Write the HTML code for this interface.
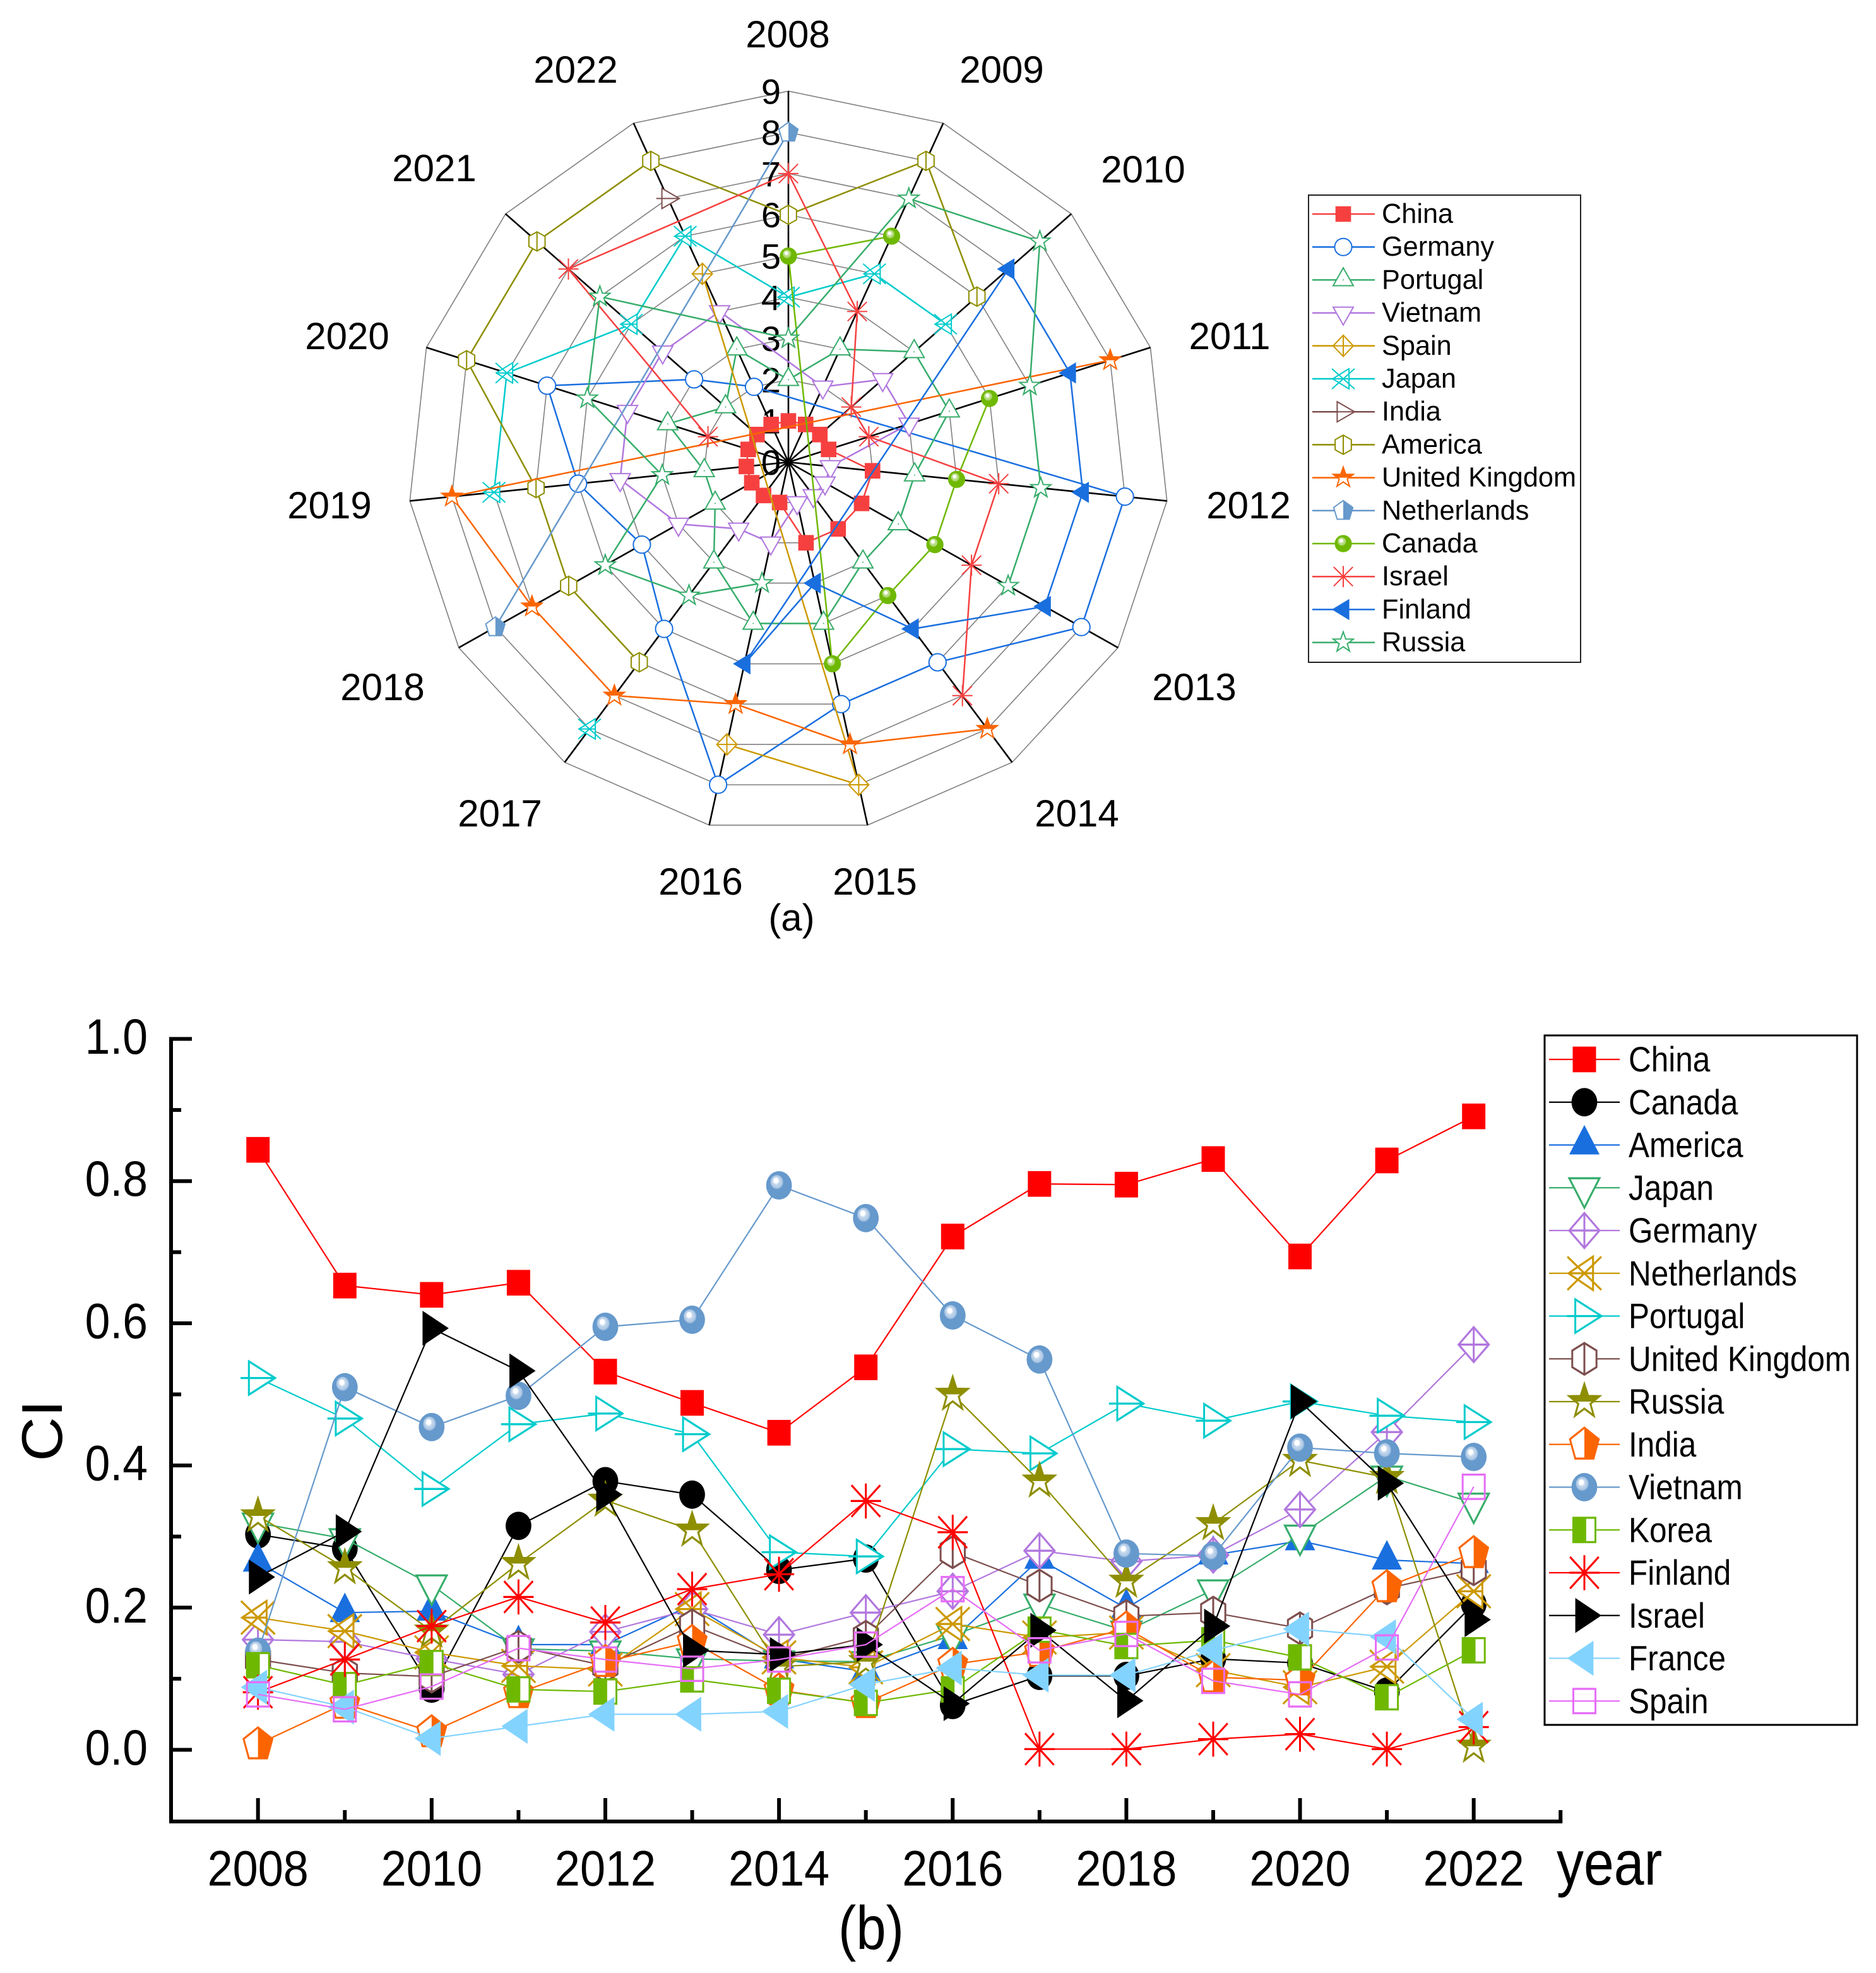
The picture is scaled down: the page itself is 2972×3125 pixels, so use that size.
<!DOCTYPE html>
<html lang="en">
<head>
<meta charset="utf-8">
<title>CI radar and line chart</title>
<style>
html,body{margin:0;padding:0;background:#fff;}
svg{display:block;}
text{font-family:"Liberation Sans",Arial,sans-serif;fill:#000;}
</style>
</head>
<body>
<svg id="figure" xmlns="http://www.w3.org/2000/svg" width="2972" height="3125" viewBox="0 0 2972 3125">
<defs>
<radialGradient id="ball-green" cx="0.5" cy="0.5" r="0.62" fx="0.36" fy="0.3">
<stop offset="0" stop-color="#ffffff"/><stop offset="0.14" stop-color="#ffffff"/><stop offset="0.2" stop-color="#c5e39a"/><stop offset="0.36" stop-color="#a9d56a"/><stop offset="0.42" stop-color="#6fb802"/><stop offset="1" stop-color="#6fb802"/>
</radialGradient>
<radialGradient id="ball-blue" cx="0.5" cy="0.5" r="0.62" fx="0.36" fy="0.3">
<stop offset="0" stop-color="#ffffff"/><stop offset="0.14" stop-color="#ffffff"/><stop offset="0.2" stop-color="#c8daee"/><stop offset="0.36" stop-color="#a9c5e4"/><stop offset="0.42" stop-color="#6699cc"/><stop offset="1" stop-color="#6699cc"/>
</radialGradient>
</defs>
<rect x="0" y="0" width="2972" height="3125" fill="#ffffff"/>

<g id="radar-chart">
<g id="radar-grid"></g>
<g id="radar-ticks" font-size="56" text-anchor="end"></g>
<g id="radar-series"></g>
<g font-size="60">
<text x="1248" y="75" text-anchor="middle">2008</text>
<text x="1587" y="131" text-anchor="middle">2009</text>
<text x="1811" y="289" text-anchor="middle">2010</text>
<text x="1948" y="553" text-anchor="middle">2011</text>
<text x="1978" y="821" text-anchor="middle">2012</text>
<text x="1892" y="1109" text-anchor="middle">2013</text>
<text x="1706" y="1309" text-anchor="middle">2014</text>
<text x="1386" y="1417" text-anchor="middle">2015</text>
<text x="1110" y="1417" text-anchor="middle">2016</text>
<text x="792" y="1309" text-anchor="middle">2017</text>
<text x="606" y="1109" text-anchor="middle">2018</text>
<text x="522" y="821" text-anchor="middle">2019</text>
<text x="550" y="553" text-anchor="middle">2020</text>
<text x="688" y="287" text-anchor="middle">2021</text>
<text x="912" y="131" text-anchor="middle">2022</text>
</g>
<rect x="2073" y="309" width="431" height="740" fill="#ffffff" stroke="#222222" stroke-width="2"/>
<g id="radar-legend"></g>
<text x="1254" y="1474" font-size="60" text-anchor="middle">(a)</text>
</g>

<g id="line-chart">
<g id="line-axes"></g>
<g id="line-series"></g>
<text transform="translate(98,2266) rotate(-90) scale(1.07,1)" font-size="91" text-anchor="middle">CI</text>
<text transform="translate(2466,2985) scale(1,1.15)" font-size="86">year</text>
<rect x="2447" y="1640" width="495" height="1092" fill="#ffffff" stroke="#000000" stroke-width="3"/>
<g id="line-legend"></g>
<text transform="translate(1380,3087) scale(1,1.15)" font-size="85" text-anchor="middle">(b)</text>
</g>
</svg>

<script>
const radarYears = [2008,2009,2010,2011,2012,2013,2014,2015,2016,2017,2018,2019,2020,2021,2022];
const radarTickLabels = [0,1,2,3,4,5,6,7,8,9];

const radarChina       = [1,1,1,1,2,2,2,2,1,1,1,1,1,1,1];
const radarGermany     = [null,null,null,null,8,8,6,6,8,5,4,5,6,3,2];
const radarPortugal    = [2,3,4,4,3,3,3,4,4,3,2,2,3,2,3];
const radarVietnam     = [null,2,3,3,1,1,1,1,2,2,3,4,4,4,4];
const radarSpain       = [null,null,null,null,null,null,null,8,7,null,null,null,null,null,5];
const radarJapan       = [4,5,5,null,null,null,null,null,null,8,null,7,7,5,6];
const radarIndia       = [null,null,null,null,null,null,null,null,null,null,null,null,null,null,7];
const radarAmerica     = [6,8,6,null,null,null,null,null,null,6,6,6,8,8,8];
const radarUK          = [null,null,null,8,null,null,8,7,6,7,7,8,null,null,null];
const radarNetherlands = [8,null,null,null,null,null,null,null,null,null,8,null,null,null,null];
const radarCanada      = [5,6,null,5,4,4,4,5,null,null,null,null,null,null,null];
const radarIsrael      = [7,4,2,2,5,5,7,null,null,null,null,null,2,7,null];
const radarFinland     = [null,null,7,7,7,7,5,3,5,null,null,null,null,null,null];
const radarRussia      = [3,7,8,6,6,6,null,null,3,4,5,3,5,6,null];

const lineYears = [2008,2009,2010,2011,2012,2013,2014,2015,2016,2017,2018,2019,2020,2021,2022];
const lineYTickLabels = ["0.0","0.2","0.4","0.6","0.8","1.0"];
const lineXTickLabels = ["2008","2010","2012","2014","2016","2018","2020","2022"];

const lineChina       = [.844,.653,.640,.657,.532,.488,.446,.538,.722,.796,.795,.831,.694,.829,.891];
const lineCanada      = [.303,.283,.086,.315,.378,.359,.253,.269,.063,.104,.104,.128,.122,.082,.205];
const lineAmerica     = [.264,.193,.195,.148,.148,.204,.128,.110,.155,.268,.199,.274,.294,.267,.262];
const lineJapan       = [.319,.297,.232,.142,.139,.128,.125,.124,.161,.205,.167,.225,.302,.385,.347];
const lineGermany     = [.155,.152,.128,.106,.166,.198,.162,.193,.223,.280,.265,.274,.338,.447,.570];
const lineNetherlands = [.186,.167,.137,.118,.113,.198,.130,.116,.177,.158,.165,.112,.088,.117,.223];
const linePortugal    = [.523,.466,.367,.458,.473,.444,.278,.272,.423,.417,.487,.463,.490,.470,.461];
const lineUK          = [.127,.108,.103,.145,.118,.175,.127,.159,.278,.231,.188,.193,.171,.227,.254];
const lineRussia      = [.329,.256,.167,.262,.351,.309,.117,.124,.500,.378,.237,.318,.407,.383,.005];
const lineIndia       = [.008,.065,.025,.080,.124,.152,.084,.066,.120,.138,.171,.102,.098,.229,.277];
const lineVietnam     = [.138,.510,.454,.498,.595,.605,.794,.748,.611,.549,.276,.273,.425,.417,.412];
const lineKorea       = [.119,.091,.122,.085,.082,.099,.083,.066,.085,.169,.146,.154,.130,.074,.140];
const lineFinland     = [.081,.127,.174,.215,.179,.226,.247,.350,.306,.001,.001,.015,.022,.001,.032];
const lineIsrael      = [.243,.307,.593,.533,.359,.140,.134,.148,.065,.168,.069,.174,.490,.375,.183];
const lineFrance      = [.088,.060,.016,.033,.050,.050,.054,.092,.115,.105,.105,.140,.170,.159,.043];
const lineSpain       = [.078,.057,.089,.143,.127,.114,.127,.148,.226,.140,.163,.097,.078,.144,.370];

const radarDefs = [
  {name:"China",values:radarChina,color:"#f64040",marker:"square"},
  {name:"Germany",values:radarGermany,color:"#1a6fdf",marker:"circle"},
  {name:"Portugal",values:radarPortugal,color:"#37ad6b",marker:"triUpDot"},
  {name:"Vietnam",values:radarVietnam,color:"#b177de",marker:"triDown"},
  {name:"Spain",values:radarSpain,color:"#cc9900",marker:"diamond"},
  {name:"Japan",values:radarJapan,color:"#00cbcc",marker:"cross"},
  {name:"India",values:radarIndia,color:"#7d4e4e",marker:"triRight"},
  {name:"America",values:radarAmerica,color:"#8e8e00",marker:"hex"},
  {name:"United Kingdom",values:radarUK,color:"#fb6501",marker:"starHalf"},
  {name:"Netherlands",values:radarNetherlands,color:"#6699cc",marker:"pentHalf"},
  {name:"Canada",values:radarCanada,color:"#6fb802",marker:"ballGreen"},
  {name:"Israel",values:radarIsrael,color:"#f64040",marker:"asterisk"},
  {name:"Finland",values:radarFinland,color:"#1a6fdf",marker:"triLeftFill"},
  {name:"Russia",values:radarRussia,color:"#37ad6b",marker:"star"}
];
const lineDefs = [
  {name:"China",values:lineChina,color:"#ff0000",marker:"square"},
  {name:"Canada",values:lineCanada,color:"#000000",marker:"circleFill"},
  {name:"America",values:lineAmerica,color:"#1a6fdf",marker:"triUpFill"},
  {name:"Japan",values:lineJapan,color:"#37ad6b",marker:"triDown"},
  {name:"Germany",values:lineGermany,color:"#b177de",marker:"diamond"},
  {name:"Netherlands",values:lineNetherlands,color:"#cc9900",marker:"cross"},
  {name:"Portugal",values:linePortugal,color:"#00cbcc",marker:"triRight"},
  {name:"United Kingdom",values:lineUK,color:"#7d4e4e",marker:"hex"},
  {name:"Russia",values:lineRussia,color:"#8e8e00",marker:"starHalf"},
  {name:"India",values:lineIndia,color:"#fb6501",marker:"pentHalf"},
  {name:"Vietnam",values:lineVietnam,color:"#6699cc",marker:"ballBlue"},
  {name:"Korea",values:lineKorea,color:"#6fb802",marker:"squareHalf"},
  {name:"Finland",values:lineFinland,color:"#ff0000",marker:"asterisk"},
  {name:"Israel",values:lineIsrael,color:"#000000",marker:"triRightFill"},
  {name:"France",values:lineFrance,color:"#83d3ff",marker:"triLeftFill"},
  {name:"Spain",values:lineSpain,color:"#e66df7",marker:"squareOpen"}
];

const SVGNS = "http://www.w3.org/2000/svg";
function make(tag, attrs, parent){
  const el = document.createElementNS(SVGNS, tag);
  for (const k in attrs) el.setAttribute(k, attrs[k]);
  parent.appendChild(el);
  return el;
}
function slug(s){ return s.toLowerCase().replace(/\s+/g, "-"); }
function pts(list, s){ return list.map(p => (p[0]*s).toFixed(2) + "," + (p[1]*s).toFixed(2)).join(" "); }

function markerMarkup(type, s, c, sw){
  const st = 'stroke="'+c+'" stroke-width="'+sw+'"';
  const ln = (a,b,d,e) => '<line x1="'+a*s+'" y1="'+b*s+'" x2="'+d*s+'" y2="'+e*s+'" '+st+'/>';
  const poly = (list, fill, stroked) => '<polygon points="'+pts(list,s)+'" fill="'+fill+'" '+(stroked?st:'')+' stroke-linejoin="miter"/>';
  const star = [[0,-1.05],[.25,-.34],[1,-.33],[.4,.13],[.62,.85],[0,.42],[-.62,.85],[-.4,.13],[-1,-.33],[-.25,-.34]];
  switch(type){
    case "square": return '<rect x="'+(-.77*s)+'" y="'+(-.77*s)+'" width="'+1.54*s+'" height="'+1.54*s+'" fill="'+c+'"/>';
    case "squareOpen": return '<rect x="'+(-.73*s)+'" y="'+(-.73*s)+'" width="'+1.46*s+'" height="'+1.46*s+'" fill="none" '+st+'/>';
    case "squareHalf": return '<rect x="'+(-.73*s)+'" y="'+(-.73*s)+'" width="'+1.46*s+'" height="'+1.46*s+'" fill="#fff" '+st+'/><rect x="'+(-.73*s)+'" y="'+(-.73*s)+'" width="'+.85*s+'" height="'+1.46*s+'" fill="'+c+'"/>';
    case "circle": return '<circle r="'+.85*s+'" fill="#fff" '+st+'/>';
    case "circleFill": return '<circle r="'+.85*s+'" fill="'+c+'"/>';
    case "ballGreen": return '<circle r="'+.85*s+'" fill="url(#ball-green)"/>';
    case "ballBlue": return '<circle r="'+.85*s+'" fill="url(#ball-blue)"/>';
    case "triUpDot": return poly([[0,-1.2],[1,.57],[-1,.57]],"#fff",true)+'<circle r="1" fill="'+c+'"/>';
    case "triUpFill": return poly([[0,-1.2],[1,.57],[-1,.57]],c,false);
    case "triDown": return poly([[0,1.2],[1,-.57],[-1,-.57]],"#fff",true);
    case "diamond": return poly([[0,-1.05],[1,0],[0,1.05],[-1,0]],"#fff",true)+ln(0,-1.05,0,1.05)+ln(-1,0,1,0);
    case "cross": return poly([[.57,-1],[.57,1],[-1.05,0]],"#fff",true)+ln(-1.12,-1,1.12,1)+ln(-1.12,1,1.12,-1)+ln(-1.05,0,.57,0);
    case "triRight": return poly([[-.6,-1],[1.13,0],[-.6,1]],"#fff",true)+ln(-1.15,0,1.13,0);
    case "triRightFill": return poly([[-.6,-1.05],[1.13,0],[-.6,1.05]],c,false);
    case "triLeftFill": return poly([[.6,-1.05],[-1.13,0],[.6,1.05]],c,false);
    case "hex": return poly([[0,-.95],[.8,-.5],[.8,.5],[0,.95],[-.8,.5],[-.8,-.5]],"#fff",true)+ln(0,-.95,0,.95);
    case "star": return poly(star,"#fff",true);
    case "starHalf": return poly(star,"#fff",true)+poly([[0,-1.05],[.25,-.34],[1,-.33],[.57,0],[-.57,0],[-1,-.33],[-.25,-.34]],c,false);
    case "pentHalf": return poly([[0,-1],[.95,-.31],[.6,.85],[-.6,.85],[-.95,-.31]],"#fff",true)+poly([[0,-1],[.95,-.31],[.6,.85],[0,.85]],c,false);
    case "asterisk": return ln(0,-1.05,0,1.05)+ln(-1,0,1,0)+ln(-.95,-.95,.95,.95)+ln(-.95,.95,.95,-.95);
  }
  return "";
}

/* ---------- radar ---------- */
const radarCx = 1249, radarCy = 732, radarRx = 67, radarRy = 65.3;
const radarStep = 2 * Math.PI / radarYears.length;
function radarX(i, v){ return radarCx + v * radarRx * Math.sin(i * radarStep); }
function radarY(i, v){ return radarCy - v * radarRy * Math.cos(i * radarStep); }

const radarGrid = document.getElementById("radar-grid");
radarTickLabels.slice(1).forEach(function(level){
  const ring = make("polygon", {points: radarYears.map((y,i) => radarX(i,level).toFixed(1)+","+radarY(i,level).toFixed(1)).join(" "), fill:"none", stroke:"#808080", "stroke-width":1.6}, radarGrid);
  
  
});
radarYears.forEach(function(year,i){
  const spoke = make("line", {x1:radarCx, y1:radarCy, x2:radarX(i,9), y2:radarY(i,9), stroke:"#000", "stroke-width":2.6}, radarGrid);
  
  
});
const radarTicks = document.getElementById("radar-ticks");
radarTickLabels.forEach(function(label){
  const t = make("text", {x:1237, y:(radarCy - label * radarRy + 20).toFixed(1)}, radarTicks);
  t.textContent = String(label);
  
  
});

const radarSeriesLayer = document.getElementById("radar-series");
radarDefs.forEach(function(def){
  const g = make("g", {}, radarSeriesLayer);
  
  
  const idx = [];
  def.values.forEach((v,i) => { if (v !== null) idx.push(i); });
  const seg = (a,b) => {
    const l = make("line", {x1:radarX(a,def.values[a]), y1:radarY(a,def.values[a]), x2:radarX(b,def.values[b]), y2:radarY(b,def.values[b]), stroke:def.color, "stroke-width":2.5}, g);
    return l;
  };
  for (let k = 0; k + 1 < idx.length; k++){
    if (idx[k+1] === idx[k] + 1) seg(idx[k], idx[k+1]);
  }
  if (idx.length > 1) seg(idx[idx.length-1], idx[0]);
  idx.forEach(function(i){
    const m = make("g", {transform:"translate("+radarX(i,def.values[i]).toFixed(1)+","+radarY(i,def.values[i]).toFixed(1)+")"}, g);
    
    
    m.innerHTML = markerMarkup(def.marker, 16, def.color, 2);
  });
});

const radarLegend = document.getElementById("radar-legend");
radarDefs.forEach(function(def,i){
  const rowY = 339 + i * 52.2;
  const row = make("g", {}, radarLegend);
  
  
  make("line", {x1:2079, y1:rowY, x2:2178, y2:rowY, stroke:def.color, "stroke-width":2.5}, row);
  const m = make("g", {transform:"translate(2128,"+rowY+")"}, row);
  m.innerHTML = markerMarkup(def.marker, 16, def.color, 2);
  const t = make("text", {x:2189, y:rowY + 14, "font-size":43.3}, row);
  t.textContent = def.name;
});

/* ---------- line chart ---------- */
const lineY0 = 2771.5, lineYScale = 1126, lineX0 = 408.7, lineXScale = 137.57;
function lineX(year){ return lineX0 + (year - 2008) * lineXScale; }
function lineY(v){ return lineY0 - v * lineYScale; }

const lineAxes = document.getElementById("line-axes");
const axisBottom = 2885, axisLeft = 271;
const yAxisLine = make("line", {x1:axisLeft, y1:lineY(1)-3, x2:axisLeft, y2:axisBottom+3, stroke:"#000", "stroke-width":6}, lineAxes);


const xAxisLine = make("line", {x1:axisLeft-3, y1:axisBottom, x2:lineX(2023)+3, y2:axisBottom, stroke:"#000", "stroke-width":6}, lineAxes);


for (let k = 0; k <= 10; k++){
  const v = k / 10;
  const major = k % 2 === 0;
  make("line", {x1:axisLeft, y1:lineY(v), x2:axisLeft + (major ? 33 : 16), y2:lineY(v), stroke:"#000", "stroke-width":6}, lineAxes);
}
lineYTickLabels.forEach(function(label){
  const t = make("text", {transform:"translate(234,"+(lineY(parseFloat(label))+23.5).toFixed(1)+") scale(1,1.1)", "font-size":71.5, "text-anchor":"end"}, lineAxes);
  t.textContent = label;
  
  
});
for (let y = 2008; y <= 2023; y++){
  const major = y % 2 === 0;
  make("line", {x1:lineX(y), y1:axisBottom, x2:lineX(y), y2:major ? 2848 : 2867, stroke:"#000", "stroke-width":6}, lineAxes);
}
lineXTickLabels.forEach(function(label){
  const t = make("text", {transform:"translate("+lineX(parseInt(label,10)).toFixed(1)+",2986.5) scale(1,1.1)", "font-size":72, "text-anchor":"middle"}, lineAxes);
  t.textContent = label;
  
  
});

const lineSeriesLayer = document.getElementById("line-series");
lineDefs.forEach(function(def){
  const g = make("g", {}, lineSeriesLayer);
  
  
  make("polyline", {points:def.values.map((v,i) => lineX(lineYears[i]).toFixed(1)+","+lineY(v).toFixed(1)).join(" "), fill:"none", stroke:def.color, "stroke-width":2.2}, g);
  def.values.forEach(function(v,i){
    const m = make("g", {transform:"translate("+lineX(lineYears[i]).toFixed(1)+","+lineY(v).toFixed(1)+") scale(1,1.1)"}, g);
    
    
    m.innerHTML = markerMarkup(def.marker, 24, def.color, 3);
  });
});

const lineLegend = document.getElementById("line-legend");
lineDefs.forEach(function(def,i){
  const rowY = 1678 + i * 67.75;
  const row = make("g", {}, lineLegend);
  
  
  make("line", {x1:2454, y1:rowY, x2:2566, y2:rowY, stroke:def.color, "stroke-width":2.2}, row);
  const m = make("g", {transform:"translate(2510,"+rowY+") scale(1,1.1)"}, row);
  m.innerHTML = markerMarkup(def.marker, 24, def.color, 3);
  const t = make("text", {transform:"translate(2580,"+(rowY+19)+") scale(1,1.12)", "font-size":49.5}, row);
  t.textContent = def.name;
});
</script>
</body>
</html>
